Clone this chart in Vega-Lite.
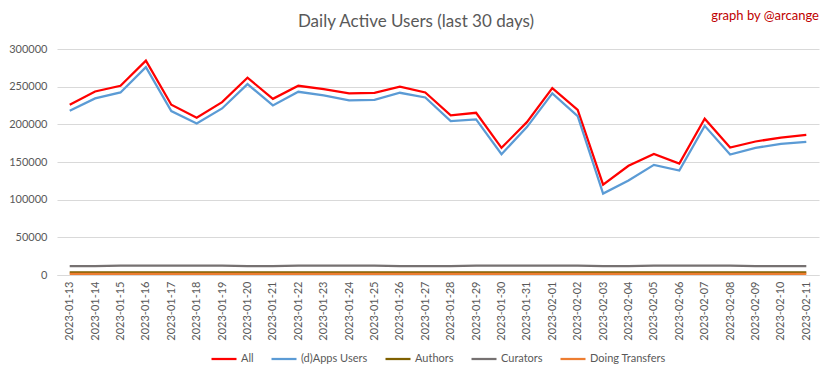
{
  "$schema": "https://vega.github.io/schema/vega-lite/v6.json",
  "background": "white",
  "padding": {"left": 8, "top": 10, "right": 14, "bottom": 6},
  "title": {"text": "graph by @arcange", "anchor": "end", "color": "#C00000", "fontSize": 13, "font": "Lato", "fontWeight": "normal", "offset": -10},
  "config": {
    "font": "Lato",
    "view": {"stroke": null},
    "concat": {"spacing": 0},
    "axis": {"labelColor": "#595959", "labelFont": "Lato", "labelFontSize": 11, "title": null, "ticks": false},
    "legend": {"labelColor": "#595959", "labelFont": "Lato", "labelFontSize": 11, "layout": {"bottom": {"anchor": "middle"}}}
  },
  "vconcat": [
    {
      "width": 762,
      "height": 226,
      "title": {"text": "Daily Active Users (last 30 days)", "anchor": "middle", "color": "#595959", "fontSize": 17, "font": "Lato", "fontWeight": "normal", "offset": 12, "dx": -22},
      "data": {"values": [
        {"date": "2023-01-13", "All": 226000, "(d)Apps Users": 218000, "Authors": 3500, "Curators": 11800, "Doing Transfers": 1500},
        {"date": "2023-01-14", "All": 243600, "(d)Apps Users": 234400, "Authors": 3500, "Curators": 11800, "Doing Transfers": 1500},
        {"date": "2023-01-15", "All": 251200, "(d)Apps Users": 242300, "Authors": 3500, "Curators": 12600, "Doing Transfers": 1500},
        {"date": "2023-01-16", "All": 284500, "(d)Apps Users": 276000, "Authors": 3500, "Curators": 12600, "Doing Transfers": 1500},
        {"date": "2023-01-17", "All": 226000, "(d)Apps Users": 217600, "Authors": 3500, "Curators": 12600, "Doing Transfers": 1500},
        {"date": "2023-01-18", "All": 208700, "(d)Apps Users": 201100, "Authors": 3500, "Curators": 12600, "Doing Transfers": 1500},
        {"date": "2023-01-19", "All": 229500, "(d)Apps Users": 221100, "Authors": 3500, "Curators": 12600, "Doing Transfers": 1500},
        {"date": "2023-01-20", "All": 261900, "(d)Apps Users": 253400, "Authors": 3500, "Curators": 11800, "Doing Transfers": 1500},
        {"date": "2023-01-21", "All": 233900, "(d)Apps Users": 225100, "Authors": 3500, "Curators": 11800, "Doing Transfers": 1500},
        {"date": "2023-01-22", "All": 251200, "(d)Apps Users": 243200, "Authors": 3500, "Curators": 12600, "Doing Transfers": 1500},
        {"date": "2023-01-23", "All": 246800, "(d)Apps Users": 238400, "Authors": 3500, "Curators": 12600, "Doing Transfers": 1500},
        {"date": "2023-01-24", "All": 241000, "(d)Apps Users": 231700, "Authors": 3500, "Curators": 12600, "Doing Transfers": 1500},
        {"date": "2023-01-25", "All": 241900, "(d)Apps Users": 232600, "Authors": 3500, "Curators": 12600, "Doing Transfers": 1500},
        {"date": "2023-01-26", "All": 249900, "(d)Apps Users": 241900, "Authors": 3500, "Curators": 11800, "Doing Transfers": 1500},
        {"date": "2023-01-27", "All": 242300, "(d)Apps Users": 235700, "Authors": 3500, "Curators": 11800, "Doing Transfers": 1500},
        {"date": "2023-01-28", "All": 211800, "(d)Apps Users": 204300, "Authors": 3500, "Curators": 11800, "Doing Transfers": 1500},
        {"date": "2023-01-29", "All": 215300, "(d)Apps Users": 206500, "Authors": 3500, "Curators": 12600, "Doing Transfers": 1500},
        {"date": "2023-01-30", "All": 168800, "(d)Apps Users": 160400, "Authors": 3500, "Curators": 12600, "Doing Transfers": 1500},
        {"date": "2023-01-31", "All": 202900, "(d)Apps Users": 196300, "Authors": 3500, "Curators": 12600, "Doing Transfers": 1500},
        {"date": "2023-02-01", "All": 248100, "(d)Apps Users": 241000, "Authors": 3500, "Curators": 12600, "Doing Transfers": 1500},
        {"date": "2023-02-02", "All": 219300, "(d)Apps Users": 210900, "Authors": 3500, "Curators": 12600, "Doing Transfers": 1500},
        {"date": "2023-02-03", "All": 120000, "(d)Apps Users": 108100, "Authors": 3500, "Curators": 11800, "Doing Transfers": 1500},
        {"date": "2023-02-04", "All": 144900, "(d)Apps Users": 125400, "Authors": 3500, "Curators": 11800, "Doing Transfers": 1500},
        {"date": "2023-02-05", "All": 160800, "(d)Apps Users": 146200, "Authors": 3500, "Curators": 12600, "Doing Transfers": 1500},
        {"date": "2023-02-06", "All": 148000, "(d)Apps Users": 138700, "Authors": 3500, "Curators": 12600, "Doing Transfers": 1500},
        {"date": "2023-02-07", "All": 207400, "(d)Apps Users": 198000, "Authors": 3500, "Curators": 12600, "Doing Transfers": 1500},
        {"date": "2023-02-08", "All": 169200, "(d)Apps Users": 159900, "Authors": 3500, "Curators": 12600, "Doing Transfers": 1500},
        {"date": "2023-02-09", "All": 177200, "(d)Apps Users": 168800, "Authors": 3500, "Curators": 11800, "Doing Transfers": 1500},
        {"date": "2023-02-10", "All": 182500, "(d)Apps Users": 174100, "Authors": 3500, "Curators": 11800, "Doing Transfers": 1500},
        {"date": "2023-02-11", "All": 186100, "(d)Apps Users": 176800, "Authors": 3500, "Curators": 11800, "Doing Transfers": 1500}
      ]},
      "transform": [
        {"fold": ["All", "(d)Apps Users", "Authors", "Curators", "Doing Transfers"], "as": ["series", "users"]}
      ],
      "mark": {"type": "line", "strokeWidth": 2.25, "strokeJoin": "miter", "clip": false},
      "encoding": {
        "x": {
          "field": "date", "type": "ordinal",
          "scale": {"type": "point", "padding": 0.5},
          "axis": {"labelAngle": -90, "labelPadding": 6, "domainColor": "#D9D9D9", "domainWidth": 1, "grid": false}
        },
        "y": {
          "field": "users", "type": "quantitative",
          "scale": {"domain": [0, 300000]},
          "axis": {"values": [0, 50000, 100000, 150000, 200000, 250000, 300000], "format": "d", "domain": false, "gridColor": "#D9D9D9", "gridWidth": 1, "labelPadding": 10}
        },
        "color": {
          "field": "series", "type": "nominal",
          "scale": {"domain": ["All", "(d)Apps Users", "Authors", "Curators", "Doing Transfers"], "range": ["#FF0000", "#5B9BD5", "#7F6000", "#767171", "#ED7D31"]},
          "legend": {"title": null, "orient": "bottom", "direction": "horizontal", "symbolType": "stroke", "symbolSize": 625, "symbolStrokeWidth": 2.25, "labelOffset": 3, "columnPadding": 13, "offset": 4}
        },
        "order": {"field": "series", "sort": "ascending"}
      }
    }
  ]
}
